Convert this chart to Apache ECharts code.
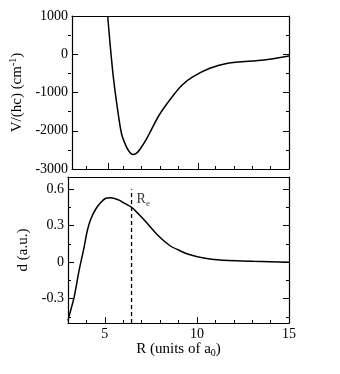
<!DOCTYPE html>
<html lang="en">
  <head>
    <meta charset="UTF-8" />
    <title>Potential and dipole</title>
    <script src="https://cdn.jsdelivr.net/npm/echarts@6.0.0/dist/echarts.min.js"></script>
    <style>
      body { margin: 0; background: #fff; }
    </style>
  </head>
  <body>
    <div id="main" style="width: 340px; height: 374px"></div>
    <script>
      // potential curve V/(hc), cm^-1
      const rPot = [4.97, 5.1, 5.28, 5.46, 5.73, 6.0, 6.2, 6.37, 6.55, 6.73, 7.09, 7.82, 8.54, 9.09, 9.63, 10.62, 11.62, 13.6, 15];
      const vPot = [1000, 286, -587, -1250, -2066, -2416, -2570, -2620, -2590, -2503, -2241, -1588, -1110, -804, -603, -367, -236, -150, -45];

      // dipole d, a.u.
      const rDip = [3.0, 3.05, 3.33, 3.6, 3.87, 4.05, 4.23, 4.5, 4.78, 5.05, 5.32, 5.77, 6.0, 6.46, 7.09, 7.82, 8.54, 9.0, 9.54, 10.36, 11.26, 13.08, 15];
      const dDip = [-0.48, -0.45, -0.29, -0.07, 0.12, 0.26, 0.35, 0.435, 0.49, 0.525, 0.53, 0.51, 0.49, 0.45, 0.354, 0.23, 0.135, 0.1, 0.065, 0.034, 0.018, 0.007, 0.0];

      const rEq = 6.45;

      const xMajor = [5, 10, 15];
      const xMinor = [4, 6, 7, 8, 9, 11, 12, 13, 14];
      const vMajor = [-3000, -2000, -1000, 0, 1000];
      const vMinor = [-2500, -1500, -500, 500];
      const dMajor = [-0.3, 0, 0.3, 0.6];
      const dMinor = [-0.45, -0.15, 0.15, 0.45];

      const font = "Liberation Serif";
      const black = "#000";
      const axisLine = { show: true, onZero: false, lineStyle: { color: black, width: 1.2 } };
      const noLine = { show: false, onZero: false };

      function tick(values, len) {
        return { show: true, inside: true, length: len, customValues: values, lineStyle: { color: black, width: 1 } };
      }

      function labels(values) {
        return {
          show: true, customValues: values, color: black, fontFamily: font, fontSize: 14, margin: 4,
          formatter: (v) => String(v),
        };
      }

      let grids = [
        { left: 68, right: 51, top: 16, height: 153 },
        { left: 68, right: 51, top: 16, height: 153 },
        { left: 68, right: 51, top: 177, height: 146 },
        { left: 68, right: 51, top: 177, height: 146 },
      ];

      let xAxis = [];
      let yAxis = [];
      [0, 2].forEach((g) => {
        let bottomPanel = g === 2;
        xAxis.push({
          gridIndex: g, type: "value", min: 3, max: 15, position: "bottom",
          axisLine: axisLine, axisTick: tick(xMajor, 6),
          axisLabel: bottomPanel ? labels(xMajor) : { show: false },
          splitLine: { show: false },
          name: bottomPanel ? "{t|R (units of a}{s|0}{t|)}" : "",
          nameLocation: "middle", nameGap: 14,
          nameTextStyle: {
            rich: {
              t: { fontFamily: font, fontSize: 15, color: black },
              s: { fontFamily: font, fontSize: 10, color: black, padding: [8, 0, 0, 0] },
            },
          },
        });
        xAxis.push({
          gridIndex: g, type: "value", min: 3, max: 15, position: "top",
          axisLine: axisLine, axisTick: { show: false }, axisLabel: { show: false }, splitLine: { show: false },
        });
        xAxis.push({
          gridIndex: g + 1, type: "value", min: 3, max: 15, position: "bottom",
          axisLine: noLine, axisTick: tick(xMinor, 3), axisLabel: { show: false }, splitLine: { show: false },
        });

        let yMin = bottomPanel ? -0.5 : -3000;
        let yMax = bottomPanel ? 0.7 : 1000;
        let major = bottomPanel ? dMajor : vMajor;
        let minor = bottomPanel ? dMinor : vMinor;
        yAxis.push({
          gridIndex: g, type: "value", min: yMin, max: yMax, position: "left",
          axisLine: axisLine, axisTick: tick(major, 6), axisLabel: labels(major),
          splitLine: { show: false },
          name: bottomPanel ? "{t|d (a.u.)}" : "{t|V/(hc) (cm}{s|-1}{t|)}",
          nameLocation: "middle", nameRotate: 90,
          nameGap: bottomPanel ? 27 : 39,
          nameTextStyle: {
            rich: {
              t: { fontFamily: font, fontSize: 15, color: black },
              s: { fontFamily: font, fontSize: 10, color: black, padding: [0, 0, 8, 0] },
            },
          },
        });
        yAxis.push({
          gridIndex: g, type: "value", min: yMin, max: yMax, position: "right",
          axisLine: axisLine, axisTick: tick(major, 6), axisLabel: { show: false }, splitLine: { show: false },
        });
        yAxis.push({
          gridIndex: g + 1, type: "value", min: yMin, max: yMax, position: "left",
          axisLine: noLine, axisTick: tick(minor, 3), axisLabel: { show: false }, splitLine: { show: false },
        });
        yAxis.push({
          gridIndex: g + 1, type: "value", min: yMin, max: yMax, position: "right",
          axisLine: noLine, axisTick: tick(minor, 3), axisLabel: { show: false }, splitLine: { show: false },
        });
      });
      // xAxis indices: 0 top-panel bottom, 3 bottom-panel bottom
      // yAxis indices: 0 top-panel left, 4 bottom-panel left

      let chart = echarts.init(document.getElementById("main"), null, { renderer: "canvas" });

      let options = {
        animation: false,
        backgroundColor: "#fff",
        grid: grids,
        xAxis: xAxis,
        yAxis: yAxis,
        series: [
          {
            type: "line", xAxisIndex: 0, yAxisIndex: 0,
            data: rPot.map((r, i) => [r, vPot[i]]),
            showSymbol: false, smooth: 0.25,
            lineStyle: { color: black, width: 1.5 },
          },
          {
            type: "line", xAxisIndex: 3, yAxisIndex: 4,
            data: rDip.map((r, i) => [r, dDip[i]]),
            showSymbol: false, smooth: 0.25,
            lineStyle: { color: black, width: 1.5 },
          },
          {
            type: "line", xAxisIndex: 3, yAxisIndex: 4,
            data: [[rEq, -0.5], [rEq, 0.6]],
            showSymbol: false,
            lineStyle: { color: black, width: 1.3, type: [4, 3] },
          },
          {
            type: "scatter", xAxisIndex: 3, yAxisIndex: 4,
            data: [[rEq, 0.6]],
            symbolSize: 0,
            label: {
              show: true, position: [5, 2],
              formatter: "{r|R}{s|e}",
              rich: {
                r: { fontFamily: font, fontSize: 14, color: black },
                s: { fontFamily: font, fontSize: 9, color: black, padding: [8, 0, 0, 0] },
              },
            },
          },
        ],
      };

      chart.setOption(options);
    </script>
  </body>
</html>
